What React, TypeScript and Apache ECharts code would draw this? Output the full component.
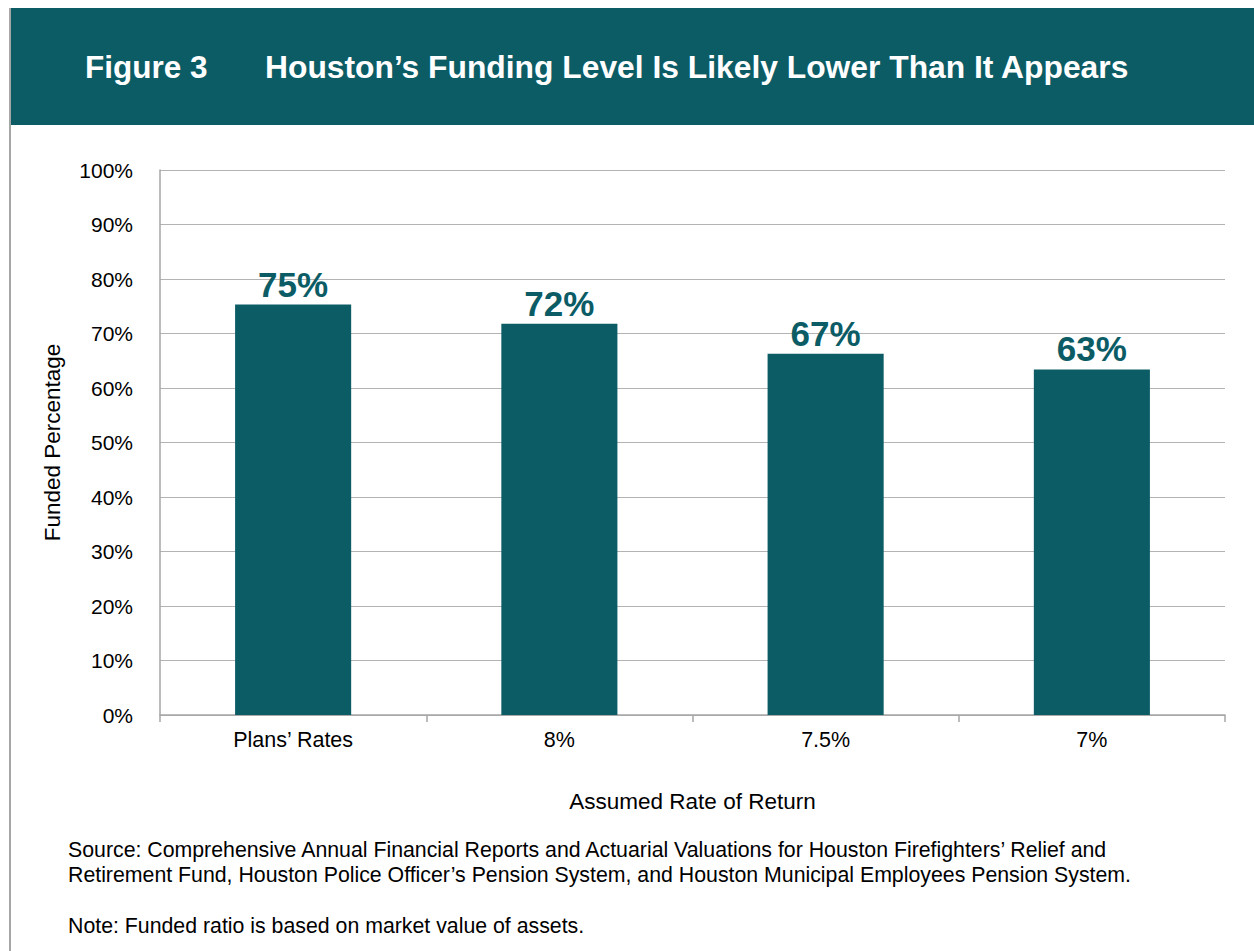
import React, { useEffect, useRef } from "react";
import * as echarts from "echarts";

const categories = ["Plans\u2019 Rates", "8%", "7.5%", "7%"];
const fundedValues = [75.3, 71.8, 66.3, 63.4];
const valueLabels = ["75%", "72%", "67%", "63%"];
const yTicks = [0, 10, 20, 30, 40, 50, 60, 70, 80, 90, 100];

const TEAL = "#0c5c66";
const FONT = "'Liberation Sans', Arial, Helvetica, sans-serif";

export default function App() {
  const ref = useRef<HTMLDivElement>(null);
  useEffect(() => {
    if (!ref.current) return;
    const chart = echarts.init(ref.current, null, { renderer: "svg" });
    chart.setOption({
      animation: false,
      backgroundColor: "#ffffff",
      textStyle: { fontFamily: FONT },
      grid: { left: 160, right: 29, top: 170, bottom: 236, containLabel: false },
      xAxis: {
        type: "category",
        data: categories,
        boundaryGap: true,
        name: "Assumed Rate of Return",
        nameLocation: "middle",
        nameGap: 75,
        nameTextStyle: { fontSize: 22.5, color: "#000", fontFamily: FONT },
        axisLine: { show: true, lineStyle: { color: "#a6a6a6", width: 1.5 } },
        axisTick: { show: true, alignWithLabel: false, length: 7, lineStyle: { color: "#a6a6a6", width: 1.5 } },
        axisLabel: { fontSize: 21.5, color: "#000", margin: 14, fontFamily: FONT },
        splitLine: { show: false },
      },
      yAxis: {
        type: "value",
        min: yTicks[0],
        max: yTicks[yTicks.length - 1],
        interval: 10,
        name: "Funded Percentage",
        nameLocation: "middle",
        nameGap: 96,
        nameRotate: 90,
        nameTextStyle: { fontSize: 22.5, color: "#000", fontFamily: FONT },
        axisLine: { show: true, lineStyle: { color: "#a6a6a6", width: 1.5 } },
        axisTick: { show: false },
        axisLabel: { fontSize: 21, color: "#000", margin: 27, formatter: (v: number) => `${v}%`, fontFamily: FONT },
        splitLine: { show: true, lineStyle: { color: "#b3b3b3", width: 1.2 } },
      },
      series: [
        {
          type: "bar",
          data: fundedValues,
          barWidth: "43.6%",
          itemStyle: { color: TEAL },
          label: {
            show: true,
            position: "top",
            distance: 3,
            formatter: (p: any) => valueLabels[p.dataIndex],
            fontSize: 35,
            fontWeight: "bold",
            color: TEAL,
            fontFamily: FONT,
          },
        },
      ],
      graphic: [
        {
          type: "rect",
          shape: { x: 10, y: 8, width: 1244, height: 117 },
          style: { fill: TEAL },
          silent: true,
        },
        {
          type: "line",
          shape: { x1: 10, y1: 8, x2: 10, y2: 951 },
          style: { stroke: "#a6a6a6", lineWidth: 2 },
          silent: true,
        },
        {
          type: "text",
          x: 85,
          y: 67,
          style: {
            text: "Figure 3",
            fill: "#ffffff",
            font: `bold 31.5px ${FONT}`,
            textVerticalAlign: "middle",
          },
        },
        {
          type: "text",
          x: 265,
          y: 67,
          style: {
            text: "Houston\u2019s Funding Level Is Likely Lower Than It Appears",
            fill: "#ffffff",
            font: `bold 31.8px ${FONT}`,
            textVerticalAlign: "middle",
          },
        },
        {
          type: "text",
          x: 68,
          y: 850,
          style: {
            text: "Source: Comprehensive Annual Financial Reports and Actuarial Valuations for Houston Firefighters\u2019 Relief and",
            fill: "#000",
            font: `21.3px ${FONT}`,
            textVerticalAlign: "middle",
          },
        },
        {
          type: "text",
          x: 68,
          y: 875,
          style: {
            text: "Retirement Fund, Houston Police Officer\u2019s Pension System, and Houston Municipal Employees Pension System.",
            fill: "#000",
            font: `21.3px ${FONT}`,
            textVerticalAlign: "middle",
          },
        },
        {
          type: "text",
          x: 68,
          y: 926,
          style: {
            text: "Note: Funded ratio is based on market value of assets.",
            fill: "#000",
            font: `21.3px ${FONT}`,
            textVerticalAlign: "middle",
          },
        },
      ],
    });
    return () => chart.dispose();
  }, []);
  return (
    <div
      ref={ref}
      style={{ position: "absolute", left: 0, top: 0, width: 1254, height: 951 }}
    />
  );
}
